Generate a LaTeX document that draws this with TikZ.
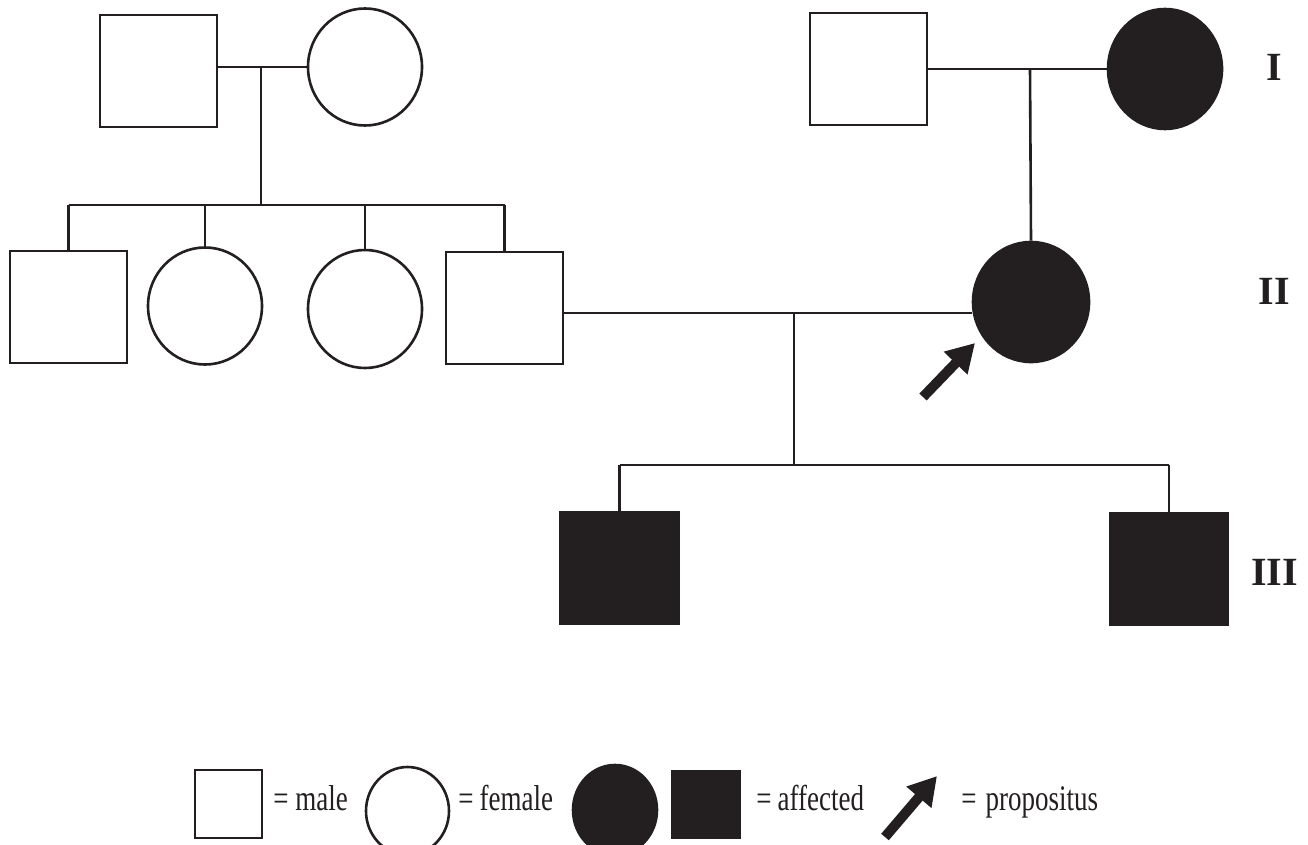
\documentclass[tikz,border=0pt]{standalone}
\usepackage{fontspec}
\setmainfont{Liberation Serif}
\newfontfamily\legendfont[FakeStretch=0.75]{Liberation Serif}
\usetikzlibrary{shapes.geometric,arrows.meta}
\definecolor{ink}{HTML}{231F20}
\tikzset{
  male/.style={rectangle, draw=ink, inner sep=0pt},
  female/.style={ellipse, draw=ink, inner sep=0pt},
  affected/.style={fill=ink},
  link/.style={draw=ink, line width=2.6pt},
  proband/.style={draw=ink, line width=10pt, line cap=butt,
    -{Triangle[length=28pt,width=31pt]}},
  gen/.style={inner sep=0pt, text=ink, font=\bfseries\fontsize{40}{40}\selectfont},
  legtext/.style={inner sep=0pt, anchor=base west, text=ink,
    font=\legendfont\fontsize{36}{36}\selectfont}
}
\begin{document}
\begin{tikzpicture}[x=1pt, y=-1pt, line width=2.6pt]
\useasboundingbox (0,0) rectangle (1308,845);

% ---- generation I ----
\node[male, minimum width=117pt, minimum height=112pt] (A) at (158.5,71) {};
\node[female, minimum width=114pt, minimum height=117pt] (B) at (365,67) {};
\node[male, minimum width=117pt, minimum height=112pt] (C) at (868.5,69) {};
\node[female, affected, minimum width=114pt, minimum height=120pt] (D) at (1165,69) {};

% ---- generation II ----
\node[male, minimum width=117pt, minimum height=112pt] (E1) at (68.5,307) {};
\node[female, minimum width=114pt, minimum height=117pt] (E2) at (205,306) {};
\node[female, minimum width=114pt, minimum height=118pt] (E3) at (365,309) {};
\node[male, minimum width=117pt, minimum height=112pt] (E4) at (504.5,308) {};
\node[female, affected, minimum width=116pt, minimum height=120pt] (F) at (1031,302) {};

% ---- generation III ----
\node[male, affected, minimum width=119pt, minimum height=112pt] (G1) at (619.5,568) {};
\node[male, affected, minimum width=118pt, minimum height=112pt] (G2) at (1169,569) {};

% ---- marriage, descent and sibship lines ----
\coordinate (m1) at (261,67);
\coordinate (s1) at (261,205);
\draw[link] (A.east |- m1) -- (B.west |- m1);
\draw[link] (m1) -- (s1);
\draw[link] (E1.north |- s1) -- (E4.north |- s1);
\foreach \k in {E1,E2,E3,E4} \draw[link] (\k.north |- s1) -- (\k.north);

\coordinate (m2) at (1030,69);
\draw[link] (C.east |- m2) -- (D.west |- m2);
\draw[link] (m2) -- (F.north);

\coordinate (m3) at (794,313);
\coordinate (s3) at (794,465);
\draw[link] (E4.east |- m3) -- (F.west |- m3);
\draw[link] (m3) -- (s3);
\draw[link] (G1.north |- s3) -- (G2.north |- s3);
\foreach \k in {G1,G2} \draw[link] (\k.north |- s3) -- (\k.north);

% ---- proband arrow ----
\coordinate (pa0) at (923,397);
\coordinate (pa1) at (975,343);
\draw[proband] (pa0) -- (pa1);

% ---- generation numerals ----
\node[gen] (g1) at (1274,67.5) {I};
\node[gen] (g2) at (1274,291) {II};
\node[gen] (g3) at (1274.5,572) {III};

% ---- legend ----
\node[male, minimum width=67pt, minimum height=68pt] (L1) at (228.5,804) {};
\node[legtext] (T1) at (272,810) {= male};
\node[female, minimum width=83pt, minimum height=88pt] (L2) at (407.5,811) {};
\node[legtext] (T2) at (457,810) {=\,female};
\node[female, affected, minimum width=84pt, minimum height=90pt] (L3) at (615,810) {};
\node[male, affected, minimum width=68pt, minimum height=67pt] (L4) at (706,804.5) {};
\node[legtext] (T3) at (755,810) {=\,affected};
\coordinate (la0) at (885,837);
\coordinate (la1) at (937,776);
\draw[proband] (la0) -- (la1);
\node[legtext] (T4) at (960,810) {=\hspace{9pt}propositus};
\end{tikzpicture}
\end{document}
